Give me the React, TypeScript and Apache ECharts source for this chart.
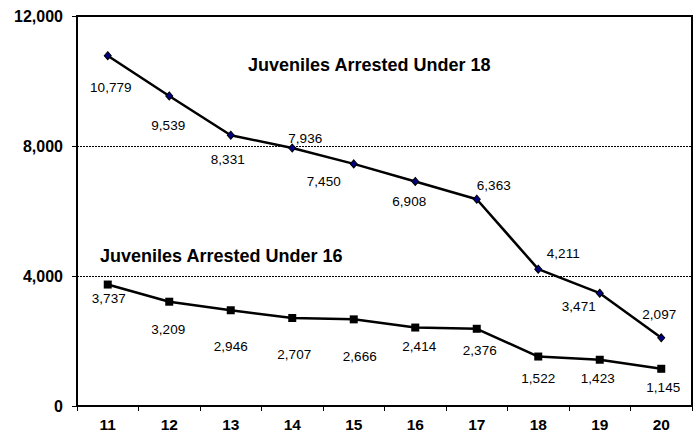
import React, { useEffect, useRef } from "react";
import * as echarts from "echarts";

const categories = ["11", "12", "13", "14", "15", "16", "17", "18", "19", "20"];
const under18 = [10779, 9539, 8331, 7936, 7450, 6908, 6363, 4211, 3471, 2097];
const under16 = [3737, 3209, 2946, 2707, 2666, 2414, 2376, 1522, 1423, 1145];
const yTicks = [0, 4000, 8000, 12000];

const under18Offsets = [
  [3, 32], [-1, 30], [-3, 24], [13, -10], [-30, 18],
  [-6, 20], [17, -14], [25, -16], [-21, 13], [-2, -23],
];
const under16Offsets = [
  [1, 14], [-1, 28], [0, 36], [2, 36], [6, 37],
  [4, 19], [3, 22], [0, 22], [-2, 19], [2, 19],
];

const fmt = (v: number) => v.toLocaleString("en-US");
const FONT = "Liberation Sans, Arial, sans-serif";

export default function App() {
  const ref = useRef<HTMLDivElement>(null);
  useEffect(() => {
    if (!ref.current) return;
    const chart = echarts.init(ref.current, undefined, { renderer: "svg" });
    const mkData = (vals: number[], offs: number[][]) =>
      vals.map((v, i) => ({
        value: v,
        label: { offset: offs[i] },
      }));
    const labelBase = {
      show: true,
      position: "inside" as const,
      formatter: (p: any) => fmt(p.value),
      fontFamily: FONT,
      fontSize: 13.5,
      color: "#000",
    };
    chart.setOption({
      animation: false,
      backgroundColor: "#fff",
      grid: {
        left: 77,
        right: 6,
        top: 16,
        bottom: 28,
        show: true,
        borderColor: "#000",
        borderWidth: 2,
        backgroundColor: "transparent",
      },
      xAxis: {
        type: "category",
        data: categories,
        boundaryGap: true,
        axisLine: { lineStyle: { color: "#000", width: 2 } },
        axisTick: { show: true, length: 5, lineStyle: { color: "#000", width: 1 } },
        axisLabel: {
          color: "#000",
          fontFamily: FONT,
          fontWeight: "bold",
          fontSize: 15.5,
          margin: 10,
        },
        splitLine: { show: false },
      },
      yAxis: {
        type: "value",
        min: 0,
        max: 12000,
        interval: 4000,
        axisLine: { show: true, lineStyle: { color: "#000", width: 2 } },
        axisTick: { show: true, length: 5, lineStyle: { color: "#000", width: 1 } },
        axisLabel: {
          color: "#000",
          fontFamily: FONT,
          fontWeight: "bold",
          fontSize: 16,
          margin: 14,
          formatter: (v: number) => (yTicks.includes(v) ? fmt(v) : ""),
        },
        splitLine: {
          show: true,
          lineStyle: { color: "#000", width: 1, type: [2, 1] },
        },
      },
      graphic: [
        {
          type: "text",
          left: 248,
          top: 56,
          style: {
            text: "Juveniles Arrested Under 18",
            fontFamily: FONT,
            fontWeight: "bold",
            fontSize: 18,
            fill: "#000",
          },
        },
        {
          type: "text",
          left: 100,
          top: 247,
          style: {
            text: "Juveniles Arrested Under 16",
            fontFamily: FONT,
            fontWeight: "bold",
            fontSize: 18,
            fill: "#000",
          },
        },
      ],
      series: [
        {
          name: "Under 18",
          type: "line",
          data: mkData(under18, under18Offsets),
          symbol: "diamond",
          symbolSize: [7, 8],
          lineStyle: { color: "#000", width: 2.5 },
          itemStyle: { color: "#000080", borderColor: "#000", borderWidth: 1 },
          label: labelBase,
          z: 3,
        },
        {
          name: "Under 16",
          type: "line",
          data: mkData(under16, under16Offsets),
          symbol: "rect",
          symbolSize: 8,
          lineStyle: { color: "#000", width: 2.5 },
          itemStyle: { color: "#000", borderColor: "#000", borderWidth: 0 },
          label: labelBase,
          z: 3,
        },
      ],
    });
    return () => chart.dispose();
  }, []);
  return (
    <div
      ref={ref}
      style={{ position: "fixed", left: 0, top: 0, width: 698, height: 434, background: "#fff" }}
    />
  );
}
